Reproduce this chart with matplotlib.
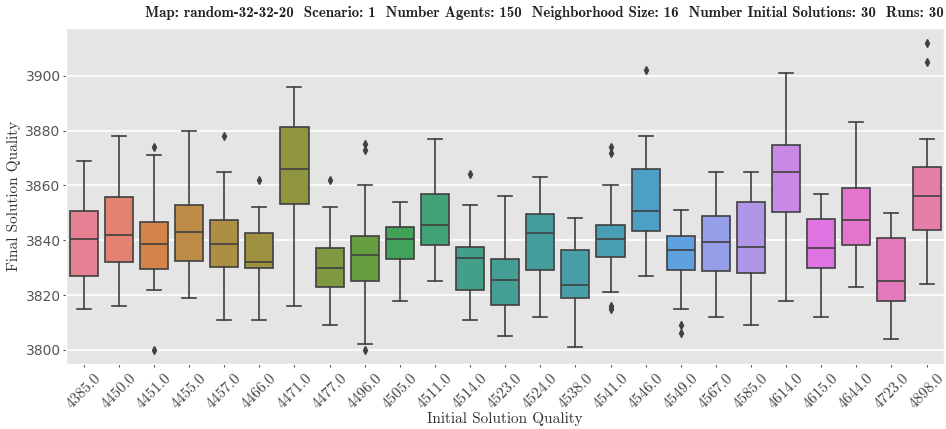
import colorsys

import matplotlib
matplotlib.use('Agg')

import matplotlib.pyplot as plt
import seaborn as sns

plt.style.use('ggplot')

# box statistics per initial solution quality
initial = [4385, 4450, 4451, 4455, 4457, 4466, 4471, 4477, 4496, 4505, 4511, 4514, 4523,
           4524, 4538, 4541, 4546, 4549, 4567, 4585, 4614, 4615, 4644, 4723, 4898]
whislo = [3815, 3816, 3822, 3819, 3811, 3811, 3816, 3809, 3802, 3818, 3825, 3811, 3805,
          3812, 3801, 3821, 3827, 3815, 3812, 3809, 3818, 3812, 3823, 3804, 3824]
q1 = [3826.8, 3832.2, 3829.6, 3832.5, 3830.3, 3830.0, 3853.2, 3823.0, 3825.2, 3833.2, 3838.2,
      3822.0, 3816.5, 3829.1, 3819.0, 3834.0, 3843.3, 3829.0, 3828.7, 3828.2, 3850.2, 3829.9,
      3838.1, 3817.8, 3843.8]
med = [3840.5, 3842.0, 3838.6, 3843.0, 3838.6, 3832.1, 3866.0, 3830.0, 3834.5, 3840.5, 3845.6,
       3833.6, 3825.5, 3842.6, 3823.6, 3840.5, 3850.5, 3836.5, 3839.5, 3837.5, 3865.0, 3837.0,
       3847.4, 3825.0, 3856.0]
q3 = [3850.5, 3855.8, 3846.7, 3853.0, 3847.4, 3842.8, 3881.4, 3837.0, 3841.6, 3844.9, 3856.8,
      3837.6, 3833.2, 3849.4, 3836.5, 3845.7, 3866.0, 3841.6, 3848.7, 3853.9, 3874.9, 3847.7,
      3858.9, 3840.9, 3866.8]
whishi = [3869, 3878, 3871, 3880, 3865, 3852, 3896, 3852, 3860, 3854, 3877, 3853, 3856,
          3863, 3848, 3860, 3878, 3851, 3865, 3865, 3901, 3857, 3883, 3850, 3877]
fliers = [[], [], [3874, 3800], [], [3878], [3862], [], [3862], [3875, 3873, 3800], [], [],
          [3864], [], [], [], [3874, 3872, 3816, 3815], [3902], [3809, 3806], [], [], [], [],
          [], [], [3912, 3905]]

labels = ['%.1f' % v for v in initial]

colors = [sns.desaturate(c, 0.75) for c in sns.color_palette('husl', len(initial))]
light = min(colorsys.rgb_to_hls(*c)[1] for c in colors) * 0.6
edge = (light, light, light)
lw = 1.2

stats = []
for i in range(len(initial)):
    stats.append(dict(med=med[i], q1=q1[i], q3=q3[i], whislo=whislo[i],
                      whishi=whishi[i], fliers=fliers[i], label=labels[i]))

fig, ax = plt.subplots(figsize=(9.46, 4.29), dpi=100)
fig.subplots_adjust(left=0.07, right=0.998, top=0.935, bottom=0.152)

bp = ax.bxp(stats, positions=range(len(initial)), widths=0.8, patch_artist=True,
            capwidths=0.4,
            boxprops=dict(edgecolor=edge, linewidth=lw),
            medianprops=dict(color=edge, linewidth=lw),
            whiskerprops=dict(color=edge, linewidth=lw),
            capprops=dict(color=edge, linewidth=lw),
            flierprops=dict(marker='d', markerfacecolor=edge, markeredgecolor=edge,
                            markersize=4, linestyle='none'))
for patch, c in zip(bp['boxes'], colors):
    patch.set_facecolor(c)

ax.set_xlim(-0.5, len(initial) - 0.5)
ax.set_ylim(3794.9, 3917.5)
ax.set_yticks([3800, 3820, 3840, 3860, 3880, 3900])
ax.grid(False)
ax.grid(True, axis='y', color='white', linewidth=1.2)
ax.set_axisbelow(True)

ax.tick_params(axis='y', labelsize=10, colors='#555555', length=2, pad=2)
ax.tick_params(axis='x', labelsize=11, colors='#555555', labelcolor='#444444', length=2)
for t in ax.get_xticklabels():
    t.set_fontfamily('cmr10')
    t.set_rotation(45)

ax.set_xlabel('Initial Solution Quality', fontsize=11, color='#333333',
              fontfamily='cmr10')
ax.xaxis.set_label_coords(0.5, -0.145)
ax.set_ylabel('Final Solution Quality', fontsize=11, color='#333333',
              fontfamily='cmr10')
ax.yaxis.set_label_coords(-0.052, 0.5)
ax.set_title('Map: random-32-32-20  Scenario: 1  Number Agents: 150  Neighborhood Size: 16  '
             'Number Initial Solutions: 30  Runs: 30',
             fontsize=10.75, loc='right', pad=8, color='#222222', fontfamily='cmb10')

plt.savefig('out.png', dpi=100)
plt.close(fig)
